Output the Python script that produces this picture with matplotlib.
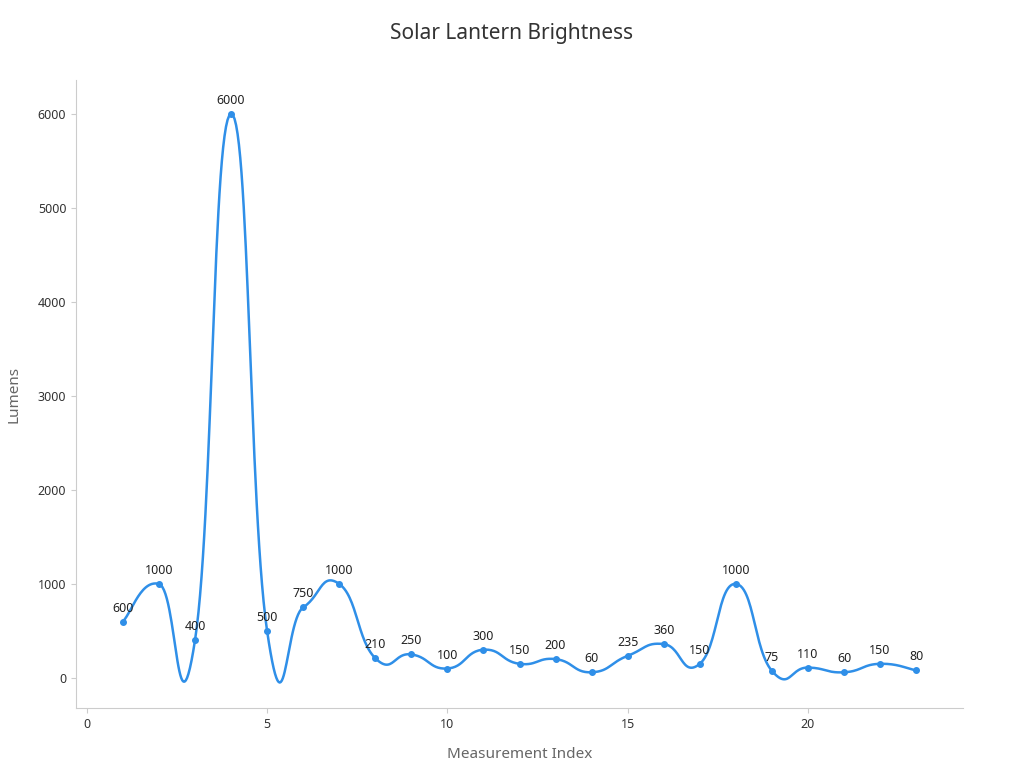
import numpy as np
import matplotlib
matplotlib.use("Agg")
import matplotlib.pyplot as plt

plt.rcParams["font.family"] = "Noto Sans"

idx = list(range(1, 24))
lumens = [600, 1000, 400, 6000, 500, 750, 1000, 210, 250, 100, 300, 150, 200,
          60, 235, 360, 150, 1000, 75, 110, 60, 150, 80]
xticks = [0, 5, 10, 15, 20]
yticks = [0, 1000, 2000, 3000, 4000, 5000, 6000]

def smooth(x, y, s=0.25, n=30):
    x = np.asarray(x, float); y = np.asarray(y, float)
    xs, ys = [], []
    for i in range(len(x) - 1):
        p0 = i - 1 if i > 0 else i
        p3 = i + 2 if i + 2 < len(x) else i + 1
        c1x = x[i] + (x[i+1] - x[p0]) * s
        c1y = y[i] + (y[i+1] - y[p0]) * s
        c2x = x[i+1] - (x[p3] - x[i]) * s
        c2y = y[i+1] - (y[p3] - y[i]) * s
        t = np.linspace(0, 1, n)
        bx = (1-t)**3*x[i] + 3*(1-t)**2*t*c1x + 3*(1-t)*t**2*c2x + t**3*x[i+1]
        by = (1-t)**3*y[i] + 3*(1-t)**2*t*c1y + 3*(1-t)*t**2*c2y + t**3*y[i+1]
        xs.extend(bx); ys.extend(by)
    return xs, ys

fig = plt.figure(figsize=(10.24, 7.68), dpi=100)
ax = fig.add_axes([76/1024, 60/768, 887/1024, 628/768])
sx, sy = smooth(idx, lumens)
color = "#2f8fe8"
ax.plot(sx, sy, color=color, lw=1.8)
ax.plot(idx, lumens, "o", color=color, ms=4)
for x, y in zip(idx, lumens):
    ax.annotate(str(y), (x, y), xytext=(0, 5), textcoords="offset points",
                ha="center", va="bottom", fontsize=9, color="#222222")
ax.set_xlim(-0.3, 24.3)
ax.set_ylim(-320, 6360)
ax.set_xticks(xticks)
ax.set_yticks(yticks)
for s in ["top", "right"]:
    ax.spines[s].set_visible(False)
for s in ["left", "bottom"]:
    ax.spines[s].set_color("#cccccc")
ax.tick_params(colors="#cccccc", labelcolor="#333333", labelsize=9)
ax.set_xlabel("Measurement Index", fontsize=11, color="#666666", labelpad=12)
ax.set_ylabel("Lumens", fontsize=11, color="#666666", labelpad=12)
fig.suptitle("Solar Lantern Brightness", fontsize=15, color="#333333", y=0.97)
fig.savefig("out.png", dpi=100)
